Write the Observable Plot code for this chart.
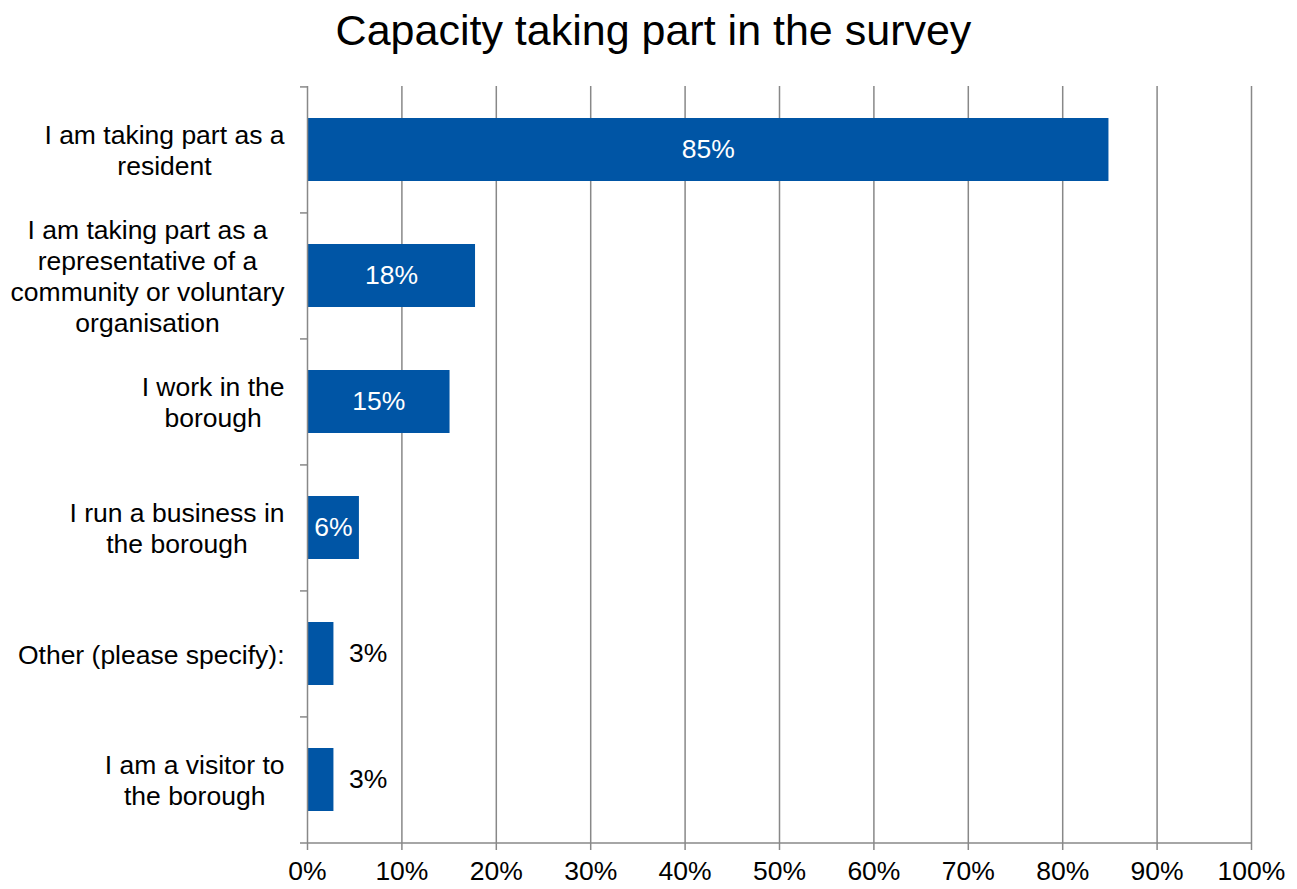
<!DOCTYPE html>
<html>
<head>
<meta charset="utf-8">
<script src="https://cdn.jsdelivr.net/npm/d3@7"></script>
<script src="https://cdn.jsdelivr.net/npm/@observablehq/plot@0.6"></script>
<style>
  body { margin: 0; background: #fff; font-family: "Liberation Sans", Arial, sans-serif; }
  #title { height: 60px; line-height: 60px; font-size: 43px; text-align: center; padding-left: 10px; color: #000; }
  #chart svg { display: block; }
</style>
</head>
<body>
<div id="title">Capacity taking part in the survey</div>
<div id="chart"></div>
<script>
const categories = [
  "I am taking part as a resident",
  "I am taking part as a representative of a community or voluntary organisation",
  "I work in the borough",
  "I run a business in the borough",
  "Other (please specify):",
  "I am a visitor to the borough"
];
const categoryLines = [
  ["I am taking part as a", "resident"],
  ["I am taking part as a", "representative of a", "community or voluntary", "organisation"],
  ["I work in the", "borough"],
  ["I run a business in", "the borough"],
  ["Other (please specify):"],
  ["I am a visitor to", "the borough"]
];
const values = [84.9, 17.8, 15.1, 5.5, 2.8, 2.8];
const valueLabels = ["85%", "18%", "15%", "6%", "3%", "3%"];
const labelPlacement = ["inside", "inside", "inside", "inside", "outside", "outside"];
const xTicks = [0, 10, 20, 30, 40, 50, 60, 70, 80, 90, 100];

const data = categories.map((c, i) => ({
  category: c, value: values[i], label: valueLabels[i], place: labelPlacement[i]
}));

const W = 1297, H = 829, mT = 26, mB = 46, mL = 307, mR = 46;
const step = (H - mT - mB) / categories.length;
const font = '"Liberation Sans", Arial, sans-serif';
const fs = 26.5;
const barColor = "#0055a5";
const gray = "#888888";

const ctx = document.createElement("canvas").getContext("2d");
ctx.font = `${fs}px "Liberation Sans"`;
const blockWidth = categoryLines.map(ls => Math.max(...ls.map(l => ctx.measureText(l).width)));

const catMarks = categories.map((c, i) =>
  Plot.text([c], {
    x: 0, y: d => d, text: () => categoryLines[i].join("\n"),
    textAnchor: "middle", lineAnchor: "middle", lineHeight: 31 / fs,
    dx: -(23 + blockWidth[i] / 2), fill: "#000", fontSize: fs
  })
);

const chart = Plot.plot({
  width: W, height: H,
  marginTop: mT, marginBottom: mB, marginLeft: mL, marginRight: mR,
  style: { fontFamily: font, color: "#000", background: "#fff", overflow: "visible" },
  x: { domain: [0, 100], axis: null },
  y: { domain: categories, paddingInner: 0.5, paddingOuter: 0.25, axis: null },
  marks: [
    Plot.ruleX(xTicks.filter(t => t > 0), { stroke: gray, strokeWidth: 1.5 }),
    Plot.barX(data, { y: "category", x: "value", fill: barColor }),
    Plot.ruleX([0], { stroke: gray, strokeWidth: 1.5 }),
    Plot.ruleY(categories, { y: d => d, dy: -step / 2, x1: 0, x2: 0, insetLeft: -7, stroke: gray, strokeWidth: 1.5 }),
    Plot.ruleY([categories[categories.length - 1]], { y: d => d, dy: step / 2, x1: 0, x2: 100, insetLeft: -7, stroke: gray, strokeWidth: 1.5 }),
    Plot.axisX(xTicks, { tickFormat: d => d + "%", tickSize: 7, tickPadding: 11, stroke: gray, strokeWidth: 1.5, fontSize: fs, fill: "#000", label: null }),
    Plot.text(data.filter(d => d.place === "inside"), {
      y: "category", x: d => d.value / 2, text: "label", fill: "#fff", fontSize: fs, textAnchor: "middle"
    }),
    Plot.text(data.filter(d => d.place === "outside"), {
      y: "category", x: "value", text: "label", fill: "#000", fontSize: fs, textAnchor: "start", dx: 15
    }),
    ...catMarks
  ]
});
document.getElementById("chart").appendChild(chart);
</script>
</body>
</html>
